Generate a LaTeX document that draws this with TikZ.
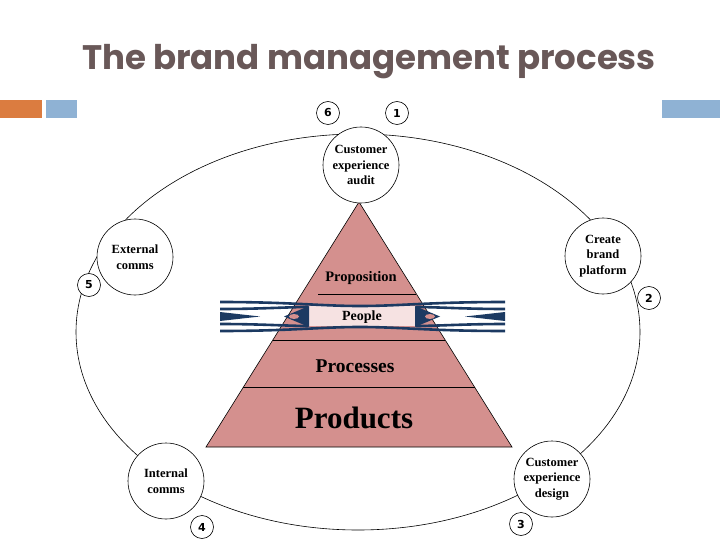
\documentclass[tikz,border=0pt]{standalone}
\usepackage{fontspec}
\setmainfont{Liberation Serif}
\newfontfamily\titlefont{Poppins}
\newfontfamily\numfont{DejaVu Sans}
\usetikzlibrary{calc}
\definecolor{titlecol}{RGB}{105,88,88}
\definecolor{pyr}{RGB}{212,144,142}
\definecolor{navy}{RGB}{28,58,98}
\definecolor{orangebar}{RGB}{219,124,64}
\definecolor{bluebar}{RGB}{143,178,212}
\definecolor{peoplebox}{RGB}{246,226,226}
\tikzset{
  stage/.style={circle,draw=black,line width=0.6pt,fill=white,minimum size=76pt,inner sep=0pt,align=center,font=\bfseries\fontsize{12.5}{15.5}\selectfont},
  num/.style={circle,draw=black,line width=0.6pt,fill=white,minimum size=23pt,inner sep=0pt,font=\numfont\bfseries\fontsize{11}{11}\selectfont},
  band/.style={navy,line width=2.6pt},
  layer/.style={font=\bfseries}
}
\begin{document}
\begin{tikzpicture}[x=1pt,y=-1pt]
\useasboundingbox (0,0) rectangle (720,540);
% title
\node[text=titlecol,font=\titlefont\bfseries\fontsize{34}{34}\selectfont] (title) at (369,62) {The brand management process};
% bars
\fill[orangebar] (0,100) rectangle (42,118);
\fill[bluebar] (46,100) rectangle (77,118);
\fill[bluebar] (662,100) rectangle (720,118);
% loop
\draw[line width=0.6pt] (358,332) ellipse [x radius=282, y radius=198];
% pyramid
\coordinate (apex) at (359,202);
\coordinate (bl) at (206,447);
\coordinate (br) at (512,447);
\draw[fill=pyr,line width=0.6pt] (apex) -- (br) -- (bl) -- cycle;
\draw[line width=0.7pt] (318,294) -- (416,294);
\draw[line width=0.7pt] (273,340) -- (445,340);
\draw[line width=0.7pt] (243,387) -- (475,387);
% people band
\fill[peoplebox] (306,306) rectangle (418,326);
\draw[band] (220,302) .. controls (290,302) and (320,306) .. (360,306) .. controls (400,306) and (430,302) .. (505,302);
\draw[band] (220,309) .. controls (260,309) and (290,307) .. (308,307);
\draw[band] (505,309) .. controls (465,309) and (435,307) .. (416,307);
\draw[band] (220,331) .. controls (290,331) and (320,327) .. (360,327) .. controls (400,327) and (430,331) .. (505,331);
\draw[band] (220,324) .. controls (260,324) and (290,326) .. (308,326);
\draw[band] (505,324) .. controls (465,324) and (435,326) .. (416,326);
\fill[navy] (220,312) -- (260,316.5) -- (220,321) -- cycle;
\fill[navy] (505,312) -- (465,316.5) -- (505,321) -- cycle;
\fill[navy] (284,316.5) -- (309,306) -- (309,327) -- cycle;
\fill[navy] (440,316.5) -- (415,306) -- (415,327) -- cycle;
\fill[pyr] (294,316.5) ellipse [x radius=5, y radius=2.5];
\fill[pyr] (430,316.5) ellipse [x radius=5, y radius=2.5];
% layer labels
\node[layer,font=\bfseries\fontsize{14.5}{14.5}\selectfont] (prop) at (361,278) {Proposition};
\node[layer,font=\bfseries\fontsize{14}{14}\selectfont] (people) at (362,317) {People};
\node[layer,font=\bfseries\fontsize{19.5}{19.5}\selectfont] (proc) at (355,366) {Processes};
\node[layer,font=\bfseries\fontsize{31}{31}\selectfont] (prod) at (354,418) {Products};
% stage circles
\node[stage] (audit) at (361,165) {Customer\\experience\\audit};
\node[stage] (platform) at (603,256) {Create\\brand\\platform};
\node[stage] (design) at (552,479) {Customer\\experience\\design};
\node[stage] (internal) at (166,481) {Internal\\comms};
\node[stage] (external) at (135,257) {External\\comms};
% numbers
\node[num] (n6) at (328,113) {6};
\node[num] (n1) at (397,113) {1};
\node[num] (n2) at (649,298) {2};
\node[num] (n3) at (521,524) {3};
\node[num] (n4) at (202,527) {4};
\node[num] (n5) at (89,285) {5};
\end{tikzpicture}
\end{document}
